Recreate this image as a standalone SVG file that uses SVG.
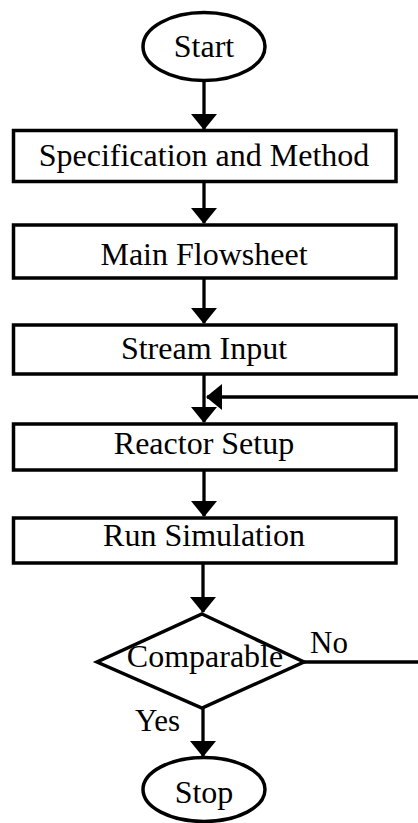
<svg xmlns="http://www.w3.org/2000/svg" width="418" height="823" viewBox="0 0 418 823">
  <style>
    .shape { fill: #fff; stroke: #000; stroke-width: 3.5; }
    .wire { fill: none; stroke: #000; stroke-width: 3.3; }
    .label { font-family: "Liberation Serif", "Times New Roman", serif; font-size: 32px; fill: #000; text-anchor: middle; }
    .tag { font-family: "Liberation Serif", "Times New Roman", serif; font-size: 31px; fill: #000; }
  </style>
  <defs>
    <marker id="head" markerUnits="userSpaceOnUse" markerWidth="16" markerHeight="26" viewBox="0 0 16 26" refX="15" refY="13" orient="auto">
      <path d="M0,0 L16,13 L0,26 Z" fill="#000"/>
    </marker>
  </defs>

  <rect width="418" height="823" fill="#fff"/>

  <!-- connectors -->
  <g id="connectors">
    <line class="wire" x1="204" y1="81" x2="204" y2="129" marker-end="url(#head)"/>
    <line class="wire" x1="204" y1="182" x2="204" y2="223" marker-end="url(#head)"/>
    <line class="wire" x1="204" y1="278" x2="204" y2="323" marker-end="url(#head)"/>
    <line class="wire" x1="204" y1="374" x2="204" y2="422" marker-end="url(#head)"/>
    <line class="wire" x1="204" y1="470" x2="204" y2="516" marker-end="url(#head)"/>
    <line class="wire" x1="203" y1="563" x2="203" y2="612" marker-end="url(#head)"/>
    <line class="wire" x1="203" y1="708" x2="203" y2="756" marker-end="url(#head)"/>
    <!-- return path from the "No" branch -->
    <line class="wire" x1="304" y1="662" x2="418" y2="662"/>
    <line class="wire" x1="418" y1="397" x2="207" y2="397" marker-end="url(#head)"/>
    <text class="tag" x="310" y="653">No</text>
    <text class="tag" x="135" y="731">Yes</text>
  </g>

  <g id="start">
    <ellipse class="shape" cx="204" cy="46.5" rx="61" ry="34"/>
    <text class="label" x="204" y="57">Start</text>
  </g>

  <g id="specification">
    <rect class="shape" x="13.5" y="130.5" width="382.5" height="51"/>
    <text class="label" x="204" y="166">Specification and Method</text>
  </g>

  <g id="flowsheet">
    <rect class="shape" x="13.5" y="225" width="382.5" height="53"/>
    <text class="label" x="204" y="265">Main Flowsheet</text>
  </g>

  <g id="stream-input">
    <rect class="shape" x="13.5" y="325" width="382.5" height="49"/>
    <text class="label" x="204" y="359">Stream Input</text>
  </g>

  <g id="reactor-setup">
    <rect class="shape" x="13.5" y="424" width="382.5" height="46"/>
    <text class="label" x="204" y="454">Reactor Setup</text>
  </g>

  <g id="run-simulation">
    <rect class="shape" x="13.5" y="518" width="382.5" height="45"/>
    <text class="label" x="204" y="546">Run Simulation</text>
  </g>

  <g id="comparable">
    <polygon class="shape" points="202,614 304,662 202,708 97,662" stroke-width="3"/>
    <text class="label" x="205" y="667">Comparable</text>
  </g>

  <g id="stop">
    <ellipse class="shape" cx="204" cy="789.5" rx="61" ry="32"/>
    <text class="label" x="204" y="803">Stop</text>
  </g>
</svg>
